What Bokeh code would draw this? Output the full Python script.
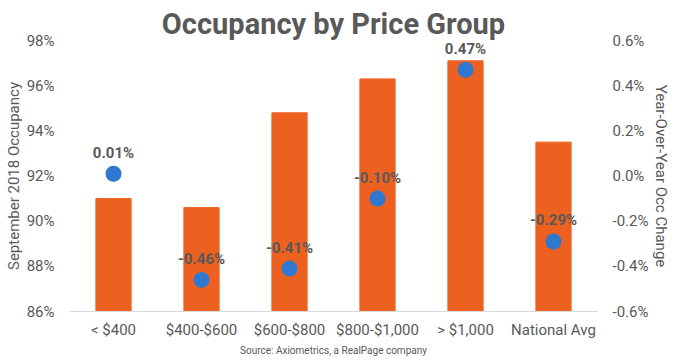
from bokeh.plotting import figure
from bokeh.models import (Range1d, LinearAxis, FixedTicker, PrintfTickFormatter,
                          ColumnDataSource, Title, FactorRange)
from bokeh.embed import file_html
from bokeh.resources import INLINE
from bokeh.core.properties import value

categories = ["< $400", "$400-$600", "$600-$800", "$800-$1,000", "> $1,000", "National Avg"]
occupancy = [91.0, 90.6, 94.8, 96.3, 97.1, 93.5]
yoy_change = [0.01, -0.46, -0.41, -0.10, 0.47, -0.29]
yoy_labels = ["0.01%", "-0.46%", "-0.41%", "-0.10%", "0.47%", "-0.29%"]
left_ticks = [86, 88, 90, 92, 94, 96, 98]
right_ticks = [-0.6, -0.4, -0.2, 0.0, 0.2, 0.4, 0.6]
title_text = "Occupancy by Price Group"
source_text = "Source: Axiometrics, a RealPage company"

TXT = "#595959"
FONT = "Roboto"

p = figure(x_range=FactorRange(*categories), y_range=Range1d(86, 98),
           width=680, height=361, output_backend="svg", toolbar_location=None,
           min_border_left=69, min_border_right=83, min_border_top=40, min_border_bottom=50)
p.outline_line_color = None
p.xgrid.grid_line_color = None
p.ygrid.grid_line_color = None
p.x_range.range_padding = 0

p.extra_y_ranges = {"yoy": Range1d(-0.6, 0.6)}

src = ColumnDataSource(dict(cat=categories, occ=occupancy, yoy=yoy_change, lab=yoy_labels))
p.vbar(x="cat", top="occ", bottom=86, width=0.4, source=src, color="#EC6120")
p.scatter(x="cat", y="yoy", y_range_name="yoy", size=16, source=src,
          fill_color="#2E78CF", line_color=None)
p.text(x="cat", y="yoy", text="lab", y_range_name="yoy", source=src,
       text_align="center", text_baseline="middle", y_offset=-21,
       text_font=value(FONT), text_font_style="bold", text_font_size="15px", text_color=TXT)

ya = p.yaxis[0]
ya.ticker = FixedTicker(ticks=left_ticks)
ya.formatter = PrintfTickFormatter(format="%d%%")
ya.axis_label = "September 2018 Occupancy"

ra = LinearAxis(y_range_name="yoy", ticker=FixedTicker(ticks=right_ticks),
                formatter=PrintfTickFormatter(format="%.1f%%"),
                axis_label="Year-Over-Year Occ Change")
p.add_layout(ra, "right")

for ax in [ya, ra]:
    ax.axis_line_color = None
    ax.major_tick_line_color = None
    ax.minor_tick_line_color = None
    ax.major_tick_out = 0
    ax.major_tick_in = 0
    ax.minor_tick_out = 0
    ax.major_label_text_font = FONT
    ax.major_label_text_font_size = "15px"
    ax.major_label_text_color = TXT
    ax.axis_label_text_font = FONT
    ax.axis_label_text_font_size = "15px"
    ax.axis_label_text_font_style = "normal"
    ax.axis_label_text_color = TXT
    ax.axis_label_standoff = 1
    ax.major_label_standoff = 15

xa = p.xaxis[0]
xa.axis_line_color = "#D9D9D9"
xa.axis_line_width = 1
xa.major_tick_line_color = None
xa.major_tick_out = 0
xa.major_tick_in = 0
xa.major_label_text_font = FONT
xa.major_label_text_font_size = "15px"
xa.major_label_text_color = TXT
xa.major_label_standoff = 9

p.add_layout(Title(text=source_text, align="center", text_font=FONT, text_font_size="10px",
                   text_font_style="normal", text_color=TXT, standoff=2), "below")
p.add_layout(Title(text=title_text, align="center", text_font=FONT, text_font_size="29px",
                   text_font_style="bold", text_color=TXT, standoff=0, offset=7), "above")

open("out.html", "w").write(file_html(p, INLINE))
